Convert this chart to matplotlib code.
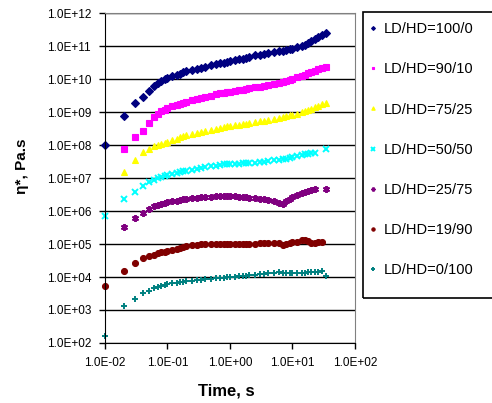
import numpy as np
import matplotlib
matplotlib.use("Agg")
import matplotlib.pyplot as plt
from matplotlib.patches import Rectangle
from matplotlib.ticker import FuncFormatter, LogLocator, NullLocator

plt.rcParams['font.family'] = ['Liberation Sans', 'DejaVu Sans']

# Tiempos de medida (s)
time_s = [0.01, 0.02, 0.03, 0.04, 0.05, 0.06, 0.07, 0.08, 0.09, 0.1,
          0.12, 0.14, 0.16, 0.18, 0.2, 0.25, 0.3, 0.35, 0.4, 0.5,
          0.6, 0.7, 0.8, 0.9, 1, 1.2, 1.4, 1.6, 1.8, 2,
          2.5, 3, 3.5, 4, 5, 6, 7, 8, 9, 10,
          12, 14, 16, 18, 20, 23, 26, 30, 34]

nan = np.nan
# log10 de la viscosidad (Pa.s)
log_eta_100_0 = [8.00, 8.89, 9.27, 9.45, 9.65, 9.78, 9.88, 9.95, 10.00, 10.04,
                 10.10, 10.13, 10.17, 10.21, 10.24, 10.28, 10.31, 10.35, 10.38, 10.42,
                 10.45, 10.48, 10.50, 10.53, 10.54, 10.57, 10.60, 10.62, 10.65, 10.67,
                 10.72, 10.75, 10.77, 10.79, 10.82, 10.85, 10.87, 10.89, 10.91, 10.92,
                 10.98, 11.02, 11.05, 11.10, 11.16, 11.22, 11.28, 11.34, 11.39]
log_eta_90_10 = [nan, 7.88, 8.25, 8.43, 8.66, 8.84, 8.95, 9.03, 9.08, 9.12,
                 9.18, 9.22, 9.26, 9.29, 9.32, 9.36, 9.40, 9.43, 9.46, 9.50,
                 9.54, 9.57, 9.59, 9.61, 9.62, 9.64, 9.66, 9.68, 9.70, 9.72,
                 9.75, 9.77, 9.79, 9.81, 9.86, 9.89, 9.92, 9.94, 9.97, 10.00,
                 10.06, 10.11, 10.14, 10.18, 10.22, 10.26, 10.30, 10.34, 10.36]
log_eta_75_25 = [nan, 7.20, 7.55, 7.78, 7.88, 7.96, 8.01, 8.05, 8.08, 8.11,
                 8.16, 8.20, 8.24, 8.28, 8.31, 8.35, 8.38, 8.41, 8.44, 8.47,
                 8.50, 8.53, 8.55, 8.57, 8.58, 8.60, 8.62, 8.64, 8.65, 8.67,
                 8.70, 8.72, 8.74, 8.76, 8.80, 8.83, 8.86, 8.88, 8.90, 8.92,
                 8.96, 9.00, 9.03, 9.06, 9.10, 9.15, 9.20, 9.25, 9.29]
log_eta_50_50 = [5.84, 6.36, 6.59, 6.77, 6.88, 6.94, 6.99, 7.03, 7.06, 7.08,
                 7.12, 7.16, 7.19, 7.21, 7.23, 7.26, 7.29, 7.31, 7.33, 7.36,
                 7.38, 7.40, 7.42, 7.43, 7.43, 7.44, 7.44, 7.45, 7.45, 7.46,
                 7.47, 7.48, 7.49, 7.51, 7.54, 7.56, 7.57, 7.59, 7.62, 7.64,
                 7.67, 7.70, 7.72, 7.74, 7.75, 7.77, nan, nan, 7.88]
log_eta_25_75 = [nan, 5.53, 5.79, 5.94, 6.06, 6.14, 6.19, 6.22, 6.25, 6.27,
                 6.30, 6.32, 6.34, 6.36, 6.37, 6.39, 6.41, 6.42, 6.43, 6.44,
                 6.45, 6.46, 6.46, 6.46, 6.46, 6.45, 6.44, 6.43, 6.42, 6.41,
                 6.39, 6.38, 6.36, 6.34, 6.30, 6.25, 6.22, 6.30, 6.38, 6.44,
                 6.50, 6.55, 6.58, 6.61, 6.64, 6.66, nan, nan, 6.67]
log_eta_19_90 = [3.74, 4.17, 4.42, 4.58, 4.64, 4.68, 4.72, 4.75, 4.77, 4.79,
                 4.82, 4.85, 4.88, 4.91, 4.93, 4.96, 4.98, 4.99, 5.00, 5.01,
                 5.01, 5.01, 5.01, 5.01, 5.01, 5.01, 5.01, 5.01, 5.01, 5.01,
                 5.01, 5.02, 5.02, 5.03, 5.04, 5.02, 4.98, 5.00, 5.03, 5.05,
                 5.07, 5.11, 5.13, 5.08, 5.04, 5.04, 5.05, 5.05, nan]
log_eta_0_100 = [2.22, 3.13, 3.33, 3.52, 3.59, 3.66, 3.70, 3.73, 3.76, 3.78,
                 3.81, 3.83, 3.85, 3.86, 3.87, 3.89, 3.91, 3.92, 3.93, 3.95,
                 3.96, 3.97, 3.98, 3.99, 4.00, 4.01, 4.02, 4.03, 4.04, 4.05,
                 4.06, 4.08, 4.09, 4.11, 4.13, 4.14, 4.13, 4.12, 4.11, 4.11,
                 4.12, 4.13, 4.13, 4.14, 4.14, 4.15, 4.16, 4.17, 4.02]

labels = ["LD/HD=100/0", "LD/HD=90/10", "LD/HD=75/25", "LD/HD=50/50",
          "LD/HD=25/75", "LD/HD=19/90", "LD/HD=0/100"]
series = [log_eta_100_0, log_eta_90_10, log_eta_75_25, log_eta_50_50,
          log_eta_25_75, log_eta_19_90, log_eta_0_100]
colores = ["#000080", "#FF00FF", "#FFFF00", "#00FFFF", "#800080", "#800000", "#008080"]
marcadores = ["D", "s", "^", "x", (6, 2, 0), "o", "+"]
tamanos = [3.6, 3.8, 4.5, 4.2, 5, 4.3, 5]
bordes = [0.8, 0.8, 0.8, 1.4, 1.4, 0.8, 1.4]

fig = plt.figure(figsize=(4.92, 4.03), dpi=100)
ax = fig.add_axes([0.2134, 0.149, 0.5081, 0.818])

t = np.array(time_s)
for lab, vals, col, mk, ms, mew in zip(labels, series, colores, marcadores, tamanos, bordes):
    y = 10 ** np.array(vals, dtype=float)
    ax.plot(t, y, linestyle="none", marker=mk, color=col, markersize=ms,
            markeredgewidth=mew, label=lab, clip_on=False)

ax.set_xscale("log")
ax.set_yscale("log")
ax.set_xlim(1e-2, 1e2)
ax.set_ylim(1e2, 1e12)
ax.xaxis.set_major_locator(LogLocator(base=10, numticks=10))
ax.yaxis.set_major_locator(LogLocator(base=10, numticks=15))
ax.xaxis.set_minor_locator(NullLocator())
ax.yaxis.set_minor_locator(NullLocator())
fmt = FuncFormatter(lambda v, p: f"{v:.1E}")
ax.xaxis.set_major_formatter(fmt)
ax.yaxis.set_major_formatter(fmt)
ax.tick_params(axis="both", direction="out", length=4, width=1, labelsize=8.5)
ax.tick_params(axis="x", pad=6)
ax.tick_params(axis="y", pad=6)
ax.yaxis.grid(True, color="black", linewidth=1)
ax.set_axisbelow(True)

for s in ["top", "right"]:
    ax.spines[s].set_color("#808080")
for s in ["left", "bottom"]:
    ax.spines[s].set_color("black")

# Titulos de los ejes
fig.text(226 / 492, 1 - 391 / 403, "Time, s", fontsize=12, fontweight="bold",
         ha="center", va="center")
fig.text(22 / 492, 1 - 166 / 403, "η*, Pa.s", fontsize=11, fontweight="bold",
         ha="center", va="center", rotation=90)

# Leyenda con recuadro propio (se sale por la derecha, como el original)
leg = ax.legend(loc="upper left", bbox_to_anchor=(383 / 492 - 0.035, 1 - 22 / 403),
                bbox_transform=fig.transFigure, frameon=False, fontsize=10.5,
                labelspacing=1.8, handletextpad=0.25, handlelength=1.0,
                markerscale=0.55, borderpad=0, borderaxespad=0)
fig.patches.append(Rectangle((363 / 492, 1 - 298 / 403), 140 / 492, 286 / 403,
                             transform=fig.transFigure, fill=False,
                             edgecolor="black", linewidth=1.2))

plt.savefig("out.png", dpi=100)
